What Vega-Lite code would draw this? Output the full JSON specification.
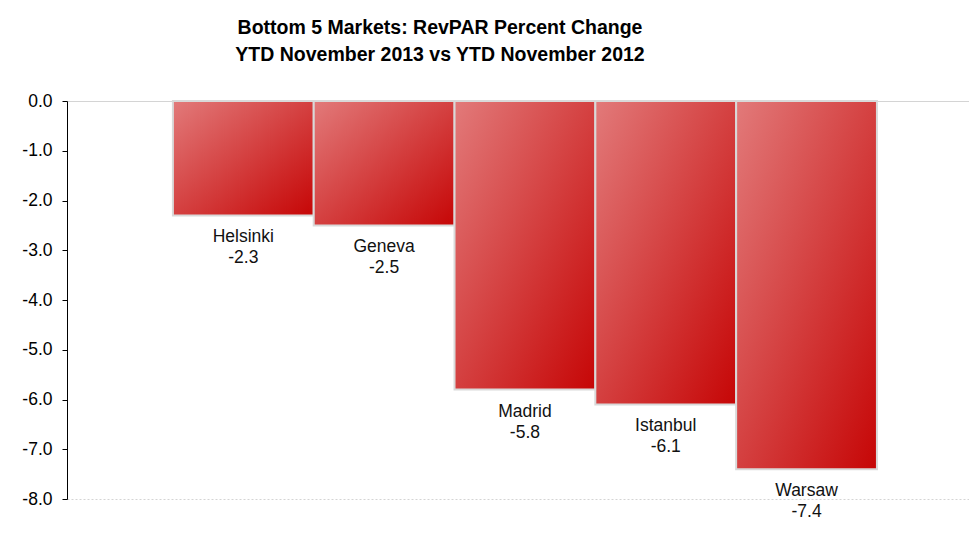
{
  "$schema": "https://vega.github.io/schema/vega-lite/v6.json",
  "width": 902,
  "height": 398,
  "autosize": {"type": "none"},
  "padding": {"left": 67, "top": 101, "right": 0, "bottom": 52},
  "background": "white",
  "config": {
    "view": {"stroke": null},
    "font": "Liberation Sans"
  },
  "title": {
    "text": ["Bottom 5 Markets: RevPAR Percent Change", "YTD November 2013 vs YTD November 2012"],
    "font": "Liberation Sans",
    "fontSize": 19.5,
    "fontWeight": "bold",
    "color": "#000000",
    "anchor": "middle",
    "frame": "group",
    "dx": -78,
    "offset": 27,
    "lineHeight": 27
  },
  "data": {
    "values": [
      {"market": "Helsinki", "change": -2.3},
      {"market": "Geneva", "change": -2.5},
      {"market": "Madrid", "change": -5.8},
      {"market": "Istanbul", "change": -6.1},
      {"market": "Warsaw", "change": -7.4}
    ]
  },
  "transform": [
    {"calculate": "replace(format(datum.change, '.1f'), '\u2212', '-')", "as": "label"}
  ],
  "encoding": {
    "x": {
      "field": "market",
      "type": "nominal",
      "sort": null,
      "scale": {"paddingInner": 0, "paddingOuter": 0.703, "align": 0.535},
      "axis": null
    },
    "y": {
      "field": "change",
      "type": "quantitative",
      "scale": {"domain": [-8, 0], "nice": false, "zero": false},
      "axis": {
        "title": null,
        "values": [0, -1, -2, -3, -4, -5, -6, -7, -8],
        "labelExpr": "replace(format(datum.value, '.1f'), '\u2212', '-')",
        "labelFont": "Liberation Sans",
        "labelFontSize": 17.5,
        "labelColor": "#000000",
        "labelPadding": 10,
        "domainColor": "#000000",
        "domainWidth": 1,
        "tickColor": "#000000",
        "tickSize": 5,
        "grid": true,
        "gridColor": "#d4d4d4",
        "gridWidth": 1,
        "gridOpacity": {"condition": {"test": "datum.value == 0 || datum.value == -8", "value": 1}, "value": 0},
        "gridDash": {"condition": {"test": "datum.value == -8", "value": [2, 2]}, "value": []}
      }
    }
  },
  "layer": [
    {
      "mark": {
        "type": "bar",
        "stroke": "#d9d9d9",
        "strokeWidth": 2,
        "color": {
          "gradient": "linear",
          "x1": 0, "y1": 0, "x2": 1, "y2": 1,
          "stops": [
            {"offset": 0, "color": "#e27a7a"},
            {"offset": 1, "color": "#c60606"}
          ]
        }
      }
    },
    {
      "mark": {"type": "text", "dy": 22, "fontSize": 17.5, "color": "#111111", "baseline": "middle", "align": "center"},
      "encoding": {"text": {"field": "market"}}
    },
    {
      "mark": {"type": "text", "dy": 43, "fontSize": 17.5, "color": "#111111", "baseline": "middle", "align": "center"},
      "encoding": {"text": {"field": "label"}}
    }
  ]
}
